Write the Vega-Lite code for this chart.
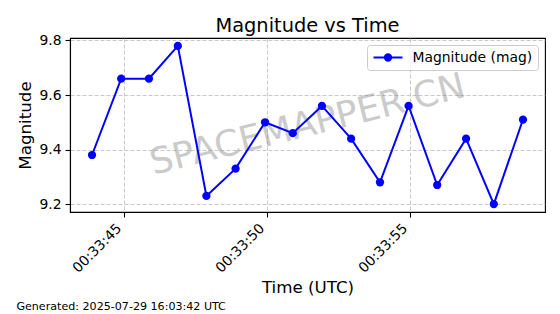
{
  "$schema": "https://vega.github.io/schema/vega-lite/v6.json",
  "width": 475,
  "height": 174,
  "autosize": {"type": "none"},
  "padding": {"left": 70, "top": 38, "right": 15, "bottom": 102},
  "background": "white",
  "config": {
    "font": "DejaVu Sans",
    "view": {"stroke": "black", "strokeWidth": 1.1},
    "axis": {
      "labelFont": "DejaVu Sans",
      "titleFont": "DejaVu Sans",
      "labelFontSize": 13.9,
      "labelColor": "black",
      "titleFontSize": 16.7,
      "titleFontWeight": "normal",
      "titleColor": "black",
      "tickSize": 5,
      "tickColor": "black",
      "tickWidth": 1.1,
      "domainColor": "black",
      "domainWidth": 1.1,
      "grid": true,
      "gridColor": "#b0b0b0",
      "gridOpacity": 0.7,
      "gridDash": [4, 2],
      "gridWidth": 1,
      "labelFlush": false,
      "labelOverlap": false
    },
    "axisX": {
      "format": "%H:%M:%S",
      "formatType": "utc",
      "labelAngle": -45,
      "labelAlign": "right",
      "labelBaseline": "middle",
      "labelPadding": 9,
      "labelOffset": -5,
      "titlePadding": 5
    }
  },
  "title": {
    "text": "Magnitude vs Time",
    "fontSize": 19.4,
    "fontWeight": "normal",
    "color": "black",
    "font": "DejaVu Sans",
    "anchor": "middle",
    "frame": "group",
    "offset": -18,
    "baseline": "alphabetic"
  },
  "layer": [
    {
      "data": {"values": [{"label": "SPACEMAPPER.CN"}]},
      "mark": {"type": "text", "fontSize": 36, "angle": -14, "align": "center", "baseline": "middle", "fill": "#808080", "opacity": 0.4, "font": "DejaVu Sans"},
      "encoding": {
        "x": {"datum": 1753749231420, "type": "temporal"},
        "y": {"datum": 9.49, "type": "quantitative"},
        "text": {"field": "label", "type": "nominal"}
      }
    },
    {
      "data": {
        "values": [
          {"time": "2025-07-29T00:33:43.880Z", "mag": 9.38},
          {"time": "2025-07-29T00:33:44.900Z", "mag": 9.66},
          {"time": "2025-07-29T00:33:45.870Z", "mag": 9.66},
          {"time": "2025-07-29T00:33:46.880Z", "mag": 9.78},
          {"time": "2025-07-29T00:33:47.880Z", "mag": 9.23},
          {"time": "2025-07-29T00:33:48.900Z", "mag": 9.33},
          {"time": "2025-07-29T00:33:49.930Z", "mag": 9.50},
          {"time": "2025-07-29T00:33:50.900Z", "mag": 9.46},
          {"time": "2025-07-29T00:33:51.920Z", "mag": 9.56},
          {"time": "2025-07-29T00:33:52.940Z", "mag": 9.44},
          {"time": "2025-07-29T00:33:53.950Z", "mag": 9.28},
          {"time": "2025-07-29T00:33:54.950Z", "mag": 9.56},
          {"time": "2025-07-29T00:33:55.950Z", "mag": 9.27},
          {"time": "2025-07-29T00:33:56.960Z", "mag": 9.44},
          {"time": "2025-07-29T00:33:57.930Z", "mag": 9.20},
          {"time": "2025-07-29T00:33:58.950Z", "mag": 9.51}
        ]
      },
      "encoding": {
        "x": {
          "field": "time",
          "type": "temporal",
          "scale": {
            "type": "utc",
            "nice": false,
            "domain": [1753749223110, 1753749239720]
          },
          "axis": {
            "title": "Time (UTC)",
            "values": [1753749225000, 1753749230000, 1753749235000],
            "format": "%H:%M:%S",
            "formatType": "utc"
          }
        },
        "y": {
          "field": "mag",
          "type": "quantitative",
          "scale": {"domain": [9.171, 9.809], "nice": false, "zero": false},
          "axis": {
            "title": "Magnitude",
            "values": [9.2, 9.4, 9.6, 9.8],
            "format": ".1f",
            "labelPadding": 4,
            "titlePadding": 4
          }
        },
        "color": {
          "datum": "Magnitude (mag)",
          "type": "nominal",
          "scale": {"range": ["#0000ff"]},
          "legend": {
            "title": null,
            "orient": "top-right",
            "offset": 7,
            "padding": 5.5,
            "fillColor": "rgba(255,255,255,0.8)",
            "strokeColor": "#cccccc",
            "cornerRadius": 3,
            "labelFontSize": 13.9,
            "labelColor": "black",
            "labelFont": "DejaVu Sans",
            "labelOffset": 9,
            "clipHeight": 14,
            "symbolType": "M-1,0L1,0M0.22,0A0.22,0.22,0,1,1,-0.22,0A0.22,0.22,0,1,1,0.22,0Z",
            "symbolSize": 841,
            "symbolStrokeWidth": 2,
            "symbolFillColor": "#0000ff",
            "symbolStrokeColor": "#0000ff",
            "symbolOpacity": 1
          }
        }
      },
      "layer": [
        {"mark": {"type": "line", "strokeWidth": 2}},
        {"mark": {"type": "point", "filled": true, "size": 68, "opacity": 1}}
      ]
    },
    {
      "data": {"values": [{"label": "Generated: 2025-07-29 16:03:42 UTC"}]},
      "mark": {"type": "text", "fontSize": 11.1, "align": "left", "baseline": "alphabetic", "color": "black", "font": "DejaVu Sans"},
      "encoding": {
        "x": {"datum": 1753749221236, "type": "temporal"},
        "y": {"datum": 8.81, "type": "quantitative"},
        "text": {"field": "label", "type": "nominal"}
      }
    }
  ]
}
